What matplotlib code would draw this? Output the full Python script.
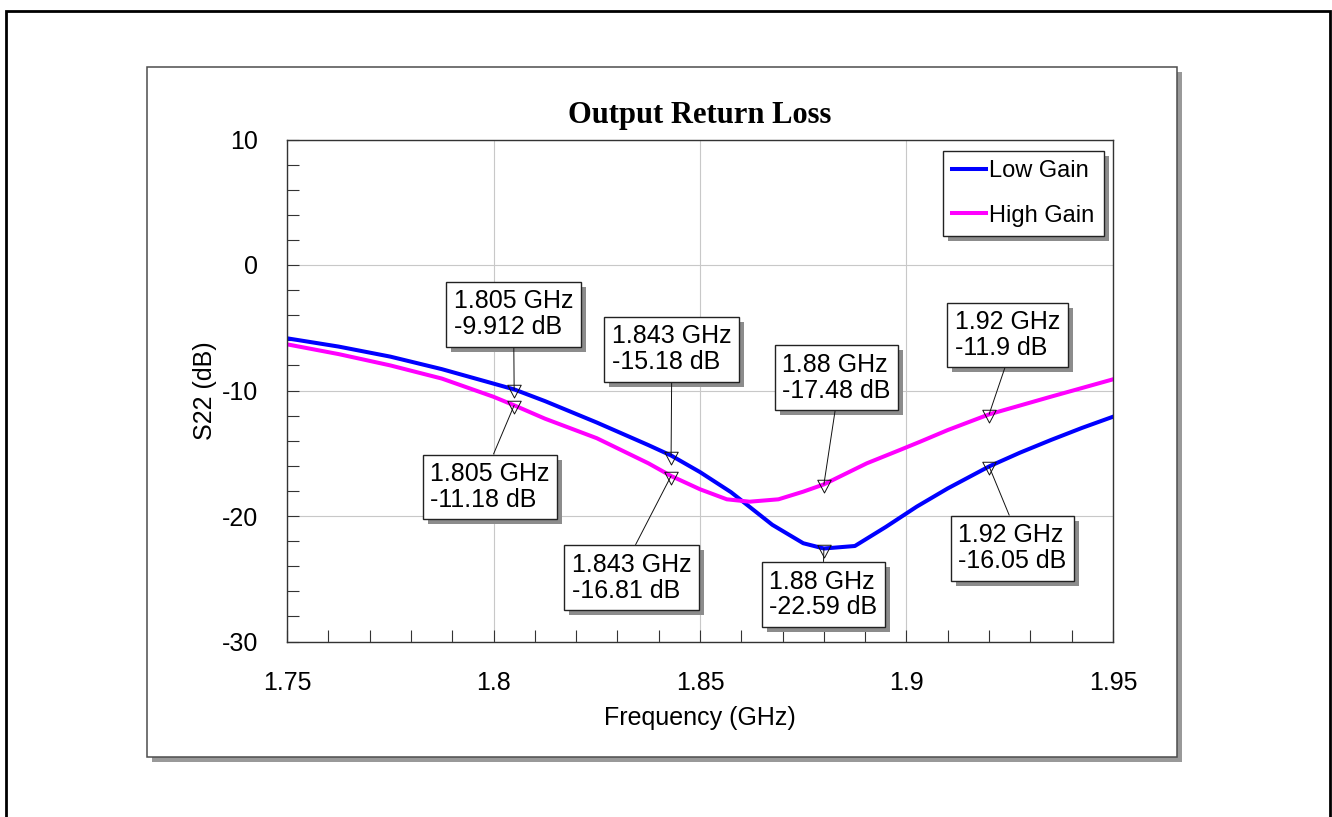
import matplotlib
matplotlib.use("Agg")
import matplotlib.pyplot as plt
from matplotlib.patches import Rectangle
from matplotlib.lines import Line2D
from matplotlib.path import Path
from matplotlib.ticker import MultipleLocator, FuncFormatter

# S22 traces
low_freq = [1.75, 1.7625, 1.775, 1.7875, 1.80, 1.805, 1.8125, 1.825, 1.8375, 1.843,
            1.85, 1.8575, 1.8625, 1.8675, 1.875, 1.88, 1.8875, 1.895, 1.9025, 1.91,
            1.92, 1.9275, 1.935, 1.9425, 1.95]
low_s22 = [-5.84, -6.5, -7.3, -8.3, -9.45, -9.912, -10.85, -12.55, -14.35, -15.18,
           -16.5, -18.1, -19.4, -20.7, -22.17, -22.59, -22.39, -20.87, -19.25, -17.8,
           -16.05, -14.95, -13.94, -12.98, -12.09]

high_freq = [1.75, 1.7625, 1.775, 1.7875, 1.80, 1.805, 1.8125, 1.825, 1.8375, 1.843,
             1.85, 1.8565, 1.862, 1.869, 1.875, 1.88, 1.8904, 1.8984, 1.9033, 1.91,
             1.92, 1.935, 1.95]
high_s22 = [-6.32, -7.1, -8.0, -9.05, -10.5, -11.18, -12.25, -13.8, -15.8, -16.81,
            -17.87, -18.67, -18.86, -18.67, -18.06, -17.48, -15.8, -14.74, -14.08, -13.15,
            -11.9, -10.49, -9.11]

# marker readouts
marker_freq = [1.805, 1.843, 1.88, 1.92]
low_marker_db = [-9.912, -15.18, -22.59, -16.05]
high_marker_db = [-11.18, -16.81, -17.48, -11.9]

series_names = ["Low Gain", "High Gain"]
series_colors = ["#0000ff", "#ff00ff"]

W, H = 1332, 817
PT = 0.72  # points per pixel at 100 dpi

plt.rcParams["font.family"] = ["Liberation Sans", "DejaVu Sans"]

fig = plt.figure(figsize=(W / 100, H / 100), dpi=100)


def fx(px):
    return px / W


def fy(py):
    return 1 - py / H


# outer frame (open at the bottom)
fig.add_artist(Line2D([fx(6), fx(6), fx(1329.5), fx(1329.5)],
                      [fy(830), fy(10.7), fy(10.7), fy(830)],
                      transform=fig.transFigure, color="black", lw=2.0,
                      solid_joinstyle="miter", zorder=-5))

# panel with drop shadow
px0, py0, px1, py1 = 146.5, 66.7, 1177.0, 756.7
fig.add_artist(Rectangle((fx(px0 + 5), fy(py1 + 5)), (px1 - px0) / W, (py1 - py0) / H,
                         transform=fig.transFigure, facecolor="#999999",
                         edgecolor="none", zorder=-4))
fig.add_artist(Rectangle((fx(px0), fy(py1)), (px1 - px0) / W, (py1 - py0) / H,
                         transform=fig.transFigure, facecolor="white",
                         edgecolor="#4d4d4d", lw=1.1, zorder=-3))

ax_l, ax_t, ax_r, ax_b = 287.0, 139.5, 1113.0, 641.5
ax = fig.add_axes([fx(ax_l), fy(ax_b), (ax_r - ax_l) / W, (ax_b - ax_t) / H])
ax.set_facecolor("white")

ax.plot(low_freq, low_s22, color=series_colors[0], lw=2.9, label=series_names[0], zorder=2)
ax.plot(high_freq, high_s22, color=series_colors[1], lw=2.9, label=series_names[1], zorder=2)

# hollow down-pointing triangle centred on its centroid
tri = Path([(-6.5, 4.1), (6.5, 4.1), (0, -8.2), (-6.5, 4.1)],
           [Path.MOVETO, Path.LINETO, Path.LINETO, Path.CLOSEPOLY])
for vals in (low_marker_db, high_marker_db):
    ax.plot(marker_freq, vals, linestyle="none", marker=tri, ms=17.0 * PT,
            mfc="none", mec="#111111", mew=0.7, zorder=2.5)

ax.set_xlim(1.75, 1.95)
ax.set_ylim(-30, 10)
ax.xaxis.set_major_locator(MultipleLocator(0.05))
ax.xaxis.set_minor_locator(MultipleLocator(0.01))
ax.yaxis.set_major_locator(MultipleLocator(10))
ax.yaxis.set_minor_locator(MultipleLocator(2))
ax.xaxis.set_major_formatter(FuncFormatter(lambda v, p: f"{v:g}"))
ax.yaxis.set_major_formatter(FuncFormatter(lambda v, p: f"{v:g}"))
ax.tick_params(which="both", direction="in", length=12 * PT, width=0.8,
               color="#333333", top=False, right=False)
ax.tick_params(axis="x", which="major", labelsize=18, pad=21)
ax.tick_params(axis="y", which="major", labelsize=18, pad=21)
ax.grid(which="major", color="#c8c8c8", lw=0.8)
for s in ax.spines.values():
    s.set_color("#333333")
    s.set_linewidth(1.0)

fig.text(fx(700), fy(123), "Output Return Loss", ha="center", va="baseline",
         fontsize=22, fontweight="bold", family=["Liberation Serif", "DejaVu Serif"])
fig.text(fx(700), fy(718), "Frequency (GHz)", ha="center", va="center", fontsize=18)
fig.text(fx(205), fy(390.5), "S22 (dB)", ha="center", va="center",
         rotation=90, fontsize=18)

leg = ax.legend(loc="upper right", bbox_to_anchor=(0.9888, 0.9777), borderaxespad=0,
                fontsize=17, frameon=True, fancybox=False, framealpha=1,
                edgecolor="#222222", labelspacing=0.95, handlelength=1.4,
                handletextpad=0.15, borderpad=0.4)
leg.get_frame().set_linewidth(1.0)
leg.set_zorder(6)

# readout boxes: offsets (px, up is positive) of the box centre from the marker
low_offsets = [(-0.4, 75.1), (0.6, 106.3), (-0.6, -46.0), (23.4, -81.7)]
high_offsets = [(-24.0, -81.7), (-39.6, -101.6), (12.4, 106.6), (18.4, 79.3)]

boxes = []
for vals, offs in ((low_marker_db, low_offsets), (high_marker_db, high_offsets)):
    for f, v, (dx, dy) in zip(marker_freq, vals, offs):
        a = ax.annotate(f"{f:g} GHz\n{v:.4g} dB", xy=(f, v),
                        xytext=(dx * PT, dy * PT), textcoords="offset points",
                        ha="center", va="center", multialignment="left",
                        fontsize=18, linespacing=1.1,
                        bbox=dict(boxstyle="square,pad=0.3", fc="white",
                                  ec="#222222", lw=1.0),
                        arrowprops=dict(arrowstyle="-", color="#111111", lw=0.7,
                                        shrinkA=0, shrinkB=0,
                                        relpos=(0.5, 0.0) if dy > 0 else (0.5, 1.0)),
                        zorder=4, annotation_clip=False)
        boxes.append(a)

# drop shadows behind readout boxes and legend
fig.canvas.draw()
renderer = fig.canvas.get_renderer()
inv = ax.transAxes.inverted()


def add_shadow(bb, z):
    (x0, y0), (x1, y1) = inv.transform([(bb.x0 + 5, bb.y0 - 5), (bb.x1 + 5, bb.y1 - 5)])
    ax.add_patch(Rectangle((x0, y0), x1 - x0, y1 - y0, transform=ax.transAxes,
                           facecolor="#8c8c8c", edgecolor="none", zorder=z,
                           clip_on=False))


for a in boxes:
    add_shadow(a.get_bbox_patch().get_window_extent(renderer), 3.9)
add_shadow(leg.get_frame().get_window_extent(renderer), 5.9)

fig.savefig("out.png", dpi=100)
